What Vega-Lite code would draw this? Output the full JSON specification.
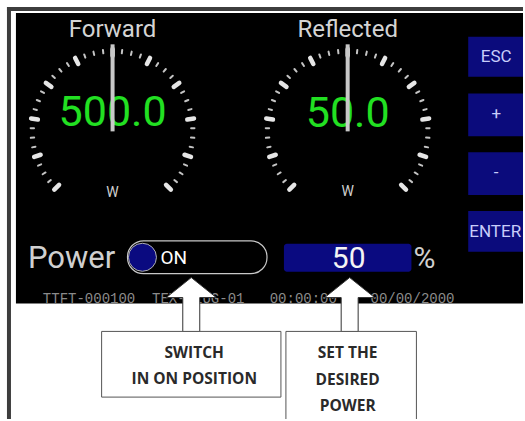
{
  "$schema": "https://vega.github.io/schema/vega-lite/v6.json",
  "width": 525,
  "height": 421,
  "autosize": {"type": "fit", "contains": "padding"},
  "padding": 0,
  "background": "white",
  "config": {
    "view": {"stroke": null},
    "axis": {"disable": true},
    "legend": {"disable": true},
    "font": "Roboto"
  },
  "datasets": {
    "panel": [{"power_label": "Power", "switch": "ON", "setpoint": 50, "setpoint_unit": "%", "status": "TTFT-000100\u00a0\u00a0TEX-PLUG-01\u00a0\u00a0\u00a000:00:00\u00a0\u00a0\u00a0\u00a000/00/2000"}],
    "gauges": [
      {"name": "Forward", "reading": 500, "full": 1000, "display": "500.0", "unit": "W"},
      {"name": "Reflected", "reading": 50, "full": 100, "display": "50.0", "unit": "W"}
    ],
    "buttons": [{"label": "ESC"}, {"label": "+"}, {"label": "-"}, {"label": "ENTER"}],
    "callouts": [
      {"callout": "switch", "lines": ["SWITCH", "IN ON POSITION"]},
      {"callout": "power", "lines": ["SET THE", "DESIRED", "POWER"]}
    ],
    "ticks": [
      {"pos": 0, "kind": "major"}, {"pos": 2.5, "kind": "minor"}, {"pos": 5, "kind": "minor"}, {"pos": 7.5, "kind": "minor"},
      {"pos": 10, "kind": "major"}, {"pos": 12.5, "kind": "minor"}, {"pos": 15, "kind": "minor"}, {"pos": 17.5, "kind": "minor"},
      {"pos": 20, "kind": "major"}, {"pos": 22.5, "kind": "minor"}, {"pos": 25, "kind": "minor"}, {"pos": 27.5, "kind": "minor"},
      {"pos": 30, "kind": "major"}, {"pos": 32.5, "kind": "minor"}, {"pos": 35, "kind": "minor"}, {"pos": 37.5, "kind": "minor"},
      {"pos": 40, "kind": "major"}, {"pos": 42.5, "kind": "minor"}, {"pos": 45, "kind": "minor"}, {"pos": 47.5, "kind": "minor"},
      {"pos": 50, "kind": "major"}, {"pos": 52.5, "kind": "minor"}, {"pos": 55, "kind": "minor"}, {"pos": 57.5, "kind": "minor"},
      {"pos": 60, "kind": "major"}, {"pos": 62.5, "kind": "minor"}, {"pos": 65, "kind": "minor"}, {"pos": 67.5, "kind": "minor"},
      {"pos": 70, "kind": "major"}, {"pos": 72.5, "kind": "minor"}, {"pos": 75, "kind": "minor"}, {"pos": 77.5, "kind": "minor"},
      {"pos": 80, "kind": "major"}, {"pos": 82.5, "kind": "minor"}, {"pos": 85, "kind": "minor"}, {"pos": 87.5, "kind": "minor"},
      {"pos": 90, "kind": "major"}, {"pos": 92.5, "kind": "minor"}, {"pos": 95, "kind": "minor"}, {"pos": 97.5, "kind": "minor"},
      {"pos": 100, "kind": "major"}
    ]
  },
  "data": {"name": "panel"},
  "resolve": {"scale": {"angle": "independent"}},
  "layer": [
    {
      "mark": {"type": "rule", "color": "#3d3d3d", "strokeWidth": 4},
      "encoding": {
        "x": {"datum": 7, "scale": {"domain": [0, 525], "nice": false, "zero": false}},
        "x2": {"datum": 525},
        "y": {"datum": 9, "scale": {"domain": [0, 421], "reverse": true, "nice": false, "zero": false}}
      }
    },
    {
      "mark": {"type": "rule", "color": "#3d3d3d", "strokeWidth": 4},
      "encoding": {"x": {"datum": 9}, "y": {"datum": 7}, "y2": {"datum": 421}}
    },
    {
      "mark": {"type": "rect", "color": "#000000"},
      "encoding": {"x": {"datum": 16}, "x2": {"datum": 525}, "y": {"datum": 13}, "y2": {"datum": 305}}
    },
    {
      "encoding": {"x": {"datum": 113}},
      "resolve": {"scale": {"angle": "independent"}},
      "layer": [
        {
          "data": {"name": "ticks"},
          "transform": [{"filter": "datum.kind === 'minor'"}],
          "mark": {"type": "point", "shape": "M0,-0.965L0,-0.925", "size": 28900, "filled": false, "color": "#c4c4c4", "strokeWidth": 2, "strokeCap": "round", "opacity": 1},
          "encoding": {"y": {"datum": 132}, "angle": {"field": "pos", "type": "quantitative", "scale": {"domain": [0, 100], "range": [-135, 135]}}}
        },
        {
          "data": {"name": "ticks"},
          "transform": [{"filter": "datum.kind === 'major'"}],
          "mark": {"type": "point", "shape": "M0,-0.97L0,-0.89", "size": 28900, "filled": false, "color": "#e6e6e6", "strokeWidth": 4.5, "strokeCap": "round", "opacity": 1},
          "encoding": {"y": {"datum": 132}, "angle": {"field": "pos", "type": "quantitative", "scale": {"domain": [0, 100], "range": [-135, 135]}}}
        },
        {
          "data": {"name": "gauges"},
          "transform": [{"filter": "datum.name === 'Forward'"}],
          "mark": {"type": "text", "font": "Roboto", "fontSize": 43, "color": "#22e022", "align": "center", "baseline": "alphabetic"},
          "encoding": {"y": {"datum": 127}, "text": {"field": "display"}}
        },
        {
          "data": {"name": "gauges"},
          "transform": [{"filter": "datum.name === 'Forward'"}],
          "mark": {"type": "point", "shape": "M0,0L0,-1.024", "size": 28900, "filled": false, "color": "#c8c8c8", "strokeWidth": 4, "strokeCap": "butt", "opacity": 1},
          "encoding": {"y": {"datum": 132}, "angle": {"field": "reading", "type": "quantitative", "scale": {"domain": [0, 1000], "range": [-135, 135]}}}
        },
        {
          "data": {"name": "gauges"},
          "transform": [{"filter": "datum.name === 'Forward'"}],
          "mark": {"type": "text", "font": "Roboto", "fontSize": 24, "color": "#d4d4d4", "align": "center", "baseline": "alphabetic"},
          "encoding": {"y": {"datum": 37}, "text": {"field": "name"}}
        },
        {
          "data": {"name": "gauges"},
          "transform": [{"filter": "datum.name === 'Forward'"}],
          "mark": {"type": "text", "font": "Roboto", "fontSize": 14, "color": "#cfcfcf", "align": "center", "baseline": "alphabetic"},
          "encoding": {"y": {"datum": 198}, "text": {"field": "unit"}}
        }
      ]
    },
    {
      "encoding": {"x": {"datum": 349}},
      "resolve": {"scale": {"angle": "independent"}},
      "layer": [
        {
          "data": {"name": "ticks"},
          "transform": [{"filter": "datum.kind === 'minor'"}],
          "mark": {"type": "point", "shape": "M0,-0.965L0,-0.925", "size": 28900, "filled": false, "color": "#c4c4c4", "strokeWidth": 2, "strokeCap": "round", "opacity": 1},
          "encoding": {"y": {"datum": 132}, "angle": {"field": "pos", "type": "quantitative", "scale": {"domain": [0, 100], "range": [-135, 135]}}}
        },
        {
          "data": {"name": "ticks"},
          "transform": [{"filter": "datum.kind === 'major'"}],
          "mark": {"type": "point", "shape": "M0,-0.97L0,-0.89", "size": 28900, "filled": false, "color": "#e6e6e6", "strokeWidth": 4.5, "strokeCap": "round", "opacity": 1},
          "encoding": {"y": {"datum": 132}, "angle": {"field": "pos", "type": "quantitative", "scale": {"domain": [0, 100], "range": [-135, 135]}}}
        },
        {
          "data": {"name": "gauges"},
          "transform": [{"filter": "datum.name === 'Reflected'"}],
          "mark": {"type": "text", "font": "Roboto", "fontSize": 43, "color": "#22e022", "align": "center", "baseline": "alphabetic"},
          "encoding": {"y": {"datum": 128}, "text": {"field": "display"}}
        },
        {
          "data": {"name": "gauges"},
          "transform": [{"filter": "datum.name === 'Reflected'"}],
          "mark": {"type": "point", "shape": "M0,0L0,-1.024", "size": 28900, "filled": false, "color": "#c8c8c8", "strokeWidth": 4, "strokeCap": "butt", "opacity": 1},
          "encoding": {"y": {"datum": 132}, "angle": {"field": "reading", "type": "quantitative", "scale": {"domain": [0, 100], "range": [-135, 135]}}}
        },
        {
          "data": {"name": "gauges"},
          "transform": [{"filter": "datum.name === 'Reflected'"}],
          "mark": {"type": "text", "font": "Roboto", "fontSize": 24, "color": "#d4d4d4", "align": "center", "baseline": "alphabetic"},
          "encoding": {"y": {"datum": 37}, "text": {"field": "name"}}
        },
        {
          "data": {"name": "gauges"},
          "transform": [{"filter": "datum.name === 'Reflected'"}],
          "mark": {"type": "text", "font": "Roboto", "fontSize": 14, "color": "#cfcfcf", "align": "center", "baseline": "alphabetic"},
          "encoding": {"y": {"datum": 197}, "text": {"field": "unit"}}
        }
      ]
    },
    {
      "data": {"name": "buttons"},
      "transform": [{"filter": "datum.label === 'ESC'"}],
      "encoding": {"x": {"datum": 470}},
      "layer": [
        {"mark": {"type": "rect", "color": "#0b0b7c"}, "encoding": {"x2": {"datum": 525}, "y": {"datum": 37}, "y2": {"datum": 77}}},
        {"mark": {"type": "text", "font": "Roboto", "fontSize": 17, "color": "#c8cdfa", "align": "center", "baseline": "middle", "dx": 28}, "encoding": {"y": {"datum": 57}, "text": {"field": "label"}}}
      ]
    },
    {
      "data": {"name": "buttons"},
      "transform": [{"filter": "datum.label === '+'"}],
      "encoding": {"x": {"datum": 470}},
      "layer": [
        {"mark": {"type": "rect", "color": "#0b0b7c"}, "encoding": {"x2": {"datum": 525}, "y": {"datum": 94}, "y2": {"datum": 137}}},
        {"mark": {"type": "text", "font": "Roboto", "fontSize": 17, "color": "#c8cdfa", "align": "center", "baseline": "middle", "dx": 28}, "encoding": {"y": {"datum": 115}, "text": {"field": "label"}}}
      ]
    },
    {
      "data": {"name": "buttons"},
      "transform": [{"filter": "datum.label === '-'"}],
      "encoding": {"x": {"datum": 470}},
      "layer": [
        {"mark": {"type": "rect", "color": "#0b0b7c"}, "encoding": {"x2": {"datum": 525}, "y": {"datum": 153}, "y2": {"datum": 196}}},
        {"mark": {"type": "text", "font": "Roboto", "fontSize": 17, "color": "#c8cdfa", "align": "center", "baseline": "middle", "dx": 28}, "encoding": {"y": {"datum": 174}, "text": {"field": "label"}}}
      ]
    },
    {
      "data": {"name": "buttons"},
      "transform": [{"filter": "datum.label === 'ENTER'"}],
      "encoding": {"x": {"datum": 470}},
      "layer": [
        {"mark": {"type": "rect", "color": "#0b0b7c"}, "encoding": {"x2": {"datum": 525}, "y": {"datum": 212}, "y2": {"datum": 253}}},
        {"mark": {"type": "text", "font": "Roboto", "fontSize": 17, "color": "#c8cdfa", "align": "center", "baseline": "middle", "dx": 27}, "encoding": {"y": {"datum": 233}, "text": {"field": "label"}}}
      ]
    },
    {
      "mark": {"type": "text", "font": "Roboto", "fontSize": 31, "color": "#d0d0d0", "align": "left", "baseline": "alphabetic"},
      "encoding": {"x": {"datum": 28}, "y": {"datum": 269}, "text": {"field": "power_label"}}
    },
    {
      "mark": {"type": "rect", "fill": "transparent", "stroke": "#c8c8c8", "strokeWidth": 1.2, "cornerRadius": 16},
      "encoding": {"x": {"datum": 128}, "x2": {"datum": 268}, "y": {"datum": 242}, "y2": {"datum": 275}}
    },
    {
      "mark": {"type": "point", "shape": "circle", "size": 784, "filled": true, "fill": "#0a0a80", "stroke": "#b0b0b0", "strokeWidth": 1, "opacity": 1},
      "encoding": {"x": {"datum": 143}, "y": {"datum": 258.5}}
    },
    {
      "mark": {"type": "text", "font": "Roboto", "fontSize": 19, "color": "#ffffff", "align": "left", "baseline": "alphabetic"},
      "encoding": {"x": {"datum": 161}, "y": {"datum": 265}, "text": {"field": "switch"}}
    },
    {
      "mark": {"type": "rect", "color": "#0a0a80", "cornerRadius": 3},
      "encoding": {"x": {"datum": 285}, "x2": {"datum": 413}, "y": {"datum": 245}, "y2": {"datum": 273}}
    },
    {
      "mark": {"type": "text", "font": "Roboto", "fontSize": 30, "color": "#f4f4f4", "align": "center", "baseline": "alphabetic"},
      "encoding": {"x": {"datum": 350}, "y": {"datum": 269}, "text": {"field": "setpoint"}}
    },
    {
      "mark": {"type": "text", "font": "Roboto", "fontSize": 30, "color": "#d0d0d0", "align": "left", "baseline": "alphabetic"},
      "encoding": {"x": {"datum": 415}, "y": {"datum": 269}, "text": {"field": "setpoint_unit"}}
    },
    {
      "mark": {"type": "text", "font": "Liberation Mono", "fontSize": 14, "color": "#8a8a8a", "align": "left", "baseline": "alphabetic"},
      "encoding": {"x": {"datum": 43}, "y": {"datum": 304}, "text": {"field": "status"}}
    },
    {
      "mark": {"type": "point", "shape": "M0,-0.9L0.833,-0.233L0.283,-0.233L0.283,0.9L-0.283,0.9L-0.283,-0.233L-0.833,-0.233Z", "size": 3600, "filled": true, "fill": "#ffffff", "stroke": "#333333", "strokeWidth": 1, "opacity": 1},
      "encoding": {"x": {"datum": 192}, "y": {"datum": 306}}
    },
    {
      "mark": {"type": "point", "shape": "M0,-0.9L0.833,-0.233L0.283,-0.233L0.283,0.9L-0.283,0.9L-0.283,-0.233L-0.833,-0.233Z", "size": 3600, "filled": true, "fill": "#ffffff", "stroke": "#333333", "strokeWidth": 1, "opacity": 1},
      "encoding": {"x": {"datum": 351}, "y": {"datum": 306}}
    },
    {
      "mark": {"type": "rect", "fill": "#ffffff", "stroke": "#555555", "strokeWidth": 1},
      "encoding": {"x": {"datum": 102}, "x2": {"datum": 282}, "y": {"datum": 333}, "y2": {"datum": 399}}
    },
    {
      "mark": {"type": "rect", "fill": "#ffffff", "stroke": "#555555", "strokeWidth": 1, "clip": true},
      "encoding": {"x": {"datum": 287}, "x2": {"datum": 418}, "y": {"datum": 333}, "y2": {"datum": 430}}
    },
    {
      "data": {"name": "callouts"},
      "transform": [{"filter": "datum.callout === 'switch'"}],
      "mark": {"type": "text", "font": "Open Sans", "fontWeight": "bold", "fontSize": 15.5, "color": "#2a2a2a", "align": "center", "baseline": "alphabetic", "lineHeight": 26},
      "encoding": {"x": {"datum": 195}, "y": {"datum": 360}, "text": {"field": "lines"}}
    },
    {
      "data": {"name": "callouts"},
      "transform": [{"filter": "datum.callout === 'power'"}],
      "mark": {"type": "text", "font": "Open Sans", "fontWeight": "bold", "fontSize": 15.5, "color": "#2a2a2a", "align": "center", "baseline": "alphabetic", "lineHeight": 26.5},
      "encoding": {"x": {"datum": 349}, "y": {"datum": 360}, "text": {"field": "lines"}}
    }
  ]
}
